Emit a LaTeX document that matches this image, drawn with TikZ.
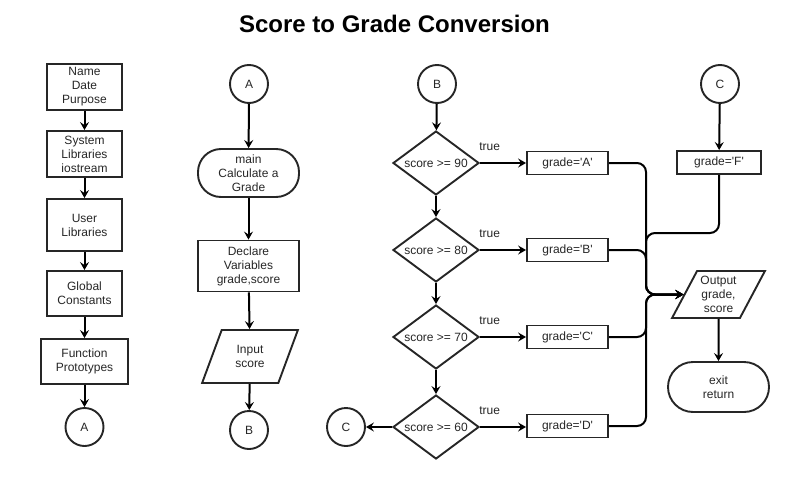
\documentclass[tikz,border=0pt]{standalone}
\usepackage{fontspec}
\setmainfont{Liberation Sans}
\usetikzlibrary{shapes.geometric,arrows.meta}

\newcommand{\q}{\textquotesingle}

\begin{document}
\begin{tikzpicture}[x=1pt,y=-1pt,
  every node/.style={font=\fontsize{12}{14}\selectfont, text=black!85, align=center, inner sep=0pt},
  box/.style={draw=black!85, line width=1.9pt, rectangle},
  conn/.style={draw=black!85, line width=1.9pt, circle, minimum size=38pt},
  term/.style={draw=black!85, line width=1.9pt, rectangle, rounded corners=23pt},
  io/.style={draw=black!85, line width=1.9pt, trapezium, trapezium stretches=true},
  dec/.style={draw=black!85, line width=1.9pt, diamond, aspect=1.34, minimum width=86pt, minimum height=64pt},
  flow/.style={draw=black, line width=2pt, -{Stealth[length=8pt,width=9pt,inset=3pt]}},
  merge/.style={flow, rounded corners=9pt},
  yes/.style={pos=0.21, anchor=south, yshift=11pt, font=\fontsize{12}{14}\selectfont}
]
\useasboundingbox (0,0) rectangle (795,479);

% title
\node[font=\fontsize{24}{28}\bfseries\selectfont, text=black] (title) at (394.5,24) {Score to Grade Conversion};

% program header column
\node[box, minimum width=75pt, minimum height=46pt] (hdr) at (84.5,87) {Name\\Date\\Purpose};
\node[box, minimum width=75pt, minimum height=46pt] (syslib) at (84.5,154) {System\\Libraries\\iostream};
\node[box, minimum width=75pt, minimum height=52pt] (usrlib) at (84.5,225) {User\\Libraries};
\node[box, minimum width=75pt, minimum height=45pt] (glob) at (84.5,293.5) {Global\\Constants};
\node[box, minimum width=87pt, minimum height=45pt] (proto) at (84.5,361.5) {Function\\Prototypes};
\node[conn] (ca1) at (84.5,427) {A};

\draw[flow] (hdr) -- (syslib);
\draw[flow] (syslib) -- (usrlib);
\draw[flow] (usrlib) -- (glob);
\draw[flow] (glob) -- (proto);
\draw[flow] (proto) -- (ca1);

% main column
\node[conn] (ca2) at (249,84) {A};
\node[term, minimum width=101pt, minimum height=48pt] (main) at (248.5,173) {main\\Calculate a\\Grade};
\node[box, minimum width=101pt, minimum height=51pt] (decl) at (248.5,266) {Declare\\Variables\\grade,score};
\node[io, trapezium left angle=65.6, trapezium right angle=114.4, minimum width=96pt, minimum height=53pt] (inp) at (250,356.5) {Input\\score};
\node[conn] (cb2) at (249,430) {B};

\draw[flow] (ca2) -- (main);
\draw[flow] (main) -- (decl);
\draw[flow] (decl) -- (inp);
\draw[flow] (inp) -- (cb2);

% decision chain
\node[conn] (cb3) at (437,84) {B};
\node[dec] (d90) at (436,163) {score >= 90};
\node[dec] (d80) at (436,250) {score >= 80};
\node[dec] (d70) at (436,337) {score >= 70};
\node[dec] (d60) at (436,427) {score >= 60};
\node[conn] (cc3) at (346,427) {C};

\node[box, minimum width=81pt, minimum height=23pt] (ga) at (567.5,163) {grade=\q A\q};
\node[box, minimum width=81pt, minimum height=23pt] (gb) at (567.5,250) {grade=\q B\q};
\node[box, minimum width=81pt, minimum height=23pt] (gc) at (567.5,337) {grade=\q C\q};
\node[box, minimum width=81pt, minimum height=23pt] (gd) at (567.5,426) {grade=\q D\q};

\draw[flow] (cb3) -- (d90);
\draw[flow] (d90) -- (d80);
\draw[flow] (d80) -- (d70);
\draw[flow] (d70) -- (d60);
\draw[flow] (d60) -- (cc3);

\draw[flow] (d90.east) -- node[yes] {true} (ga.west |- d90.east);
\draw[flow] (d80.east) -- node[yes] {true} (gb.west |- d80.east);
\draw[flow] (d70.east) -- node[yes] {true} (gc.west |- d70.east);
\draw[flow] (d60.east) -- node[yes] {true} (gd.west |- d60.east);

% output column
\node[conn] (cc4) at (720,84) {C};
\node[box, minimum width=84pt, minimum height=23pt] (gf) at (719,162.5) {grade=\q F\q};
\node[io, trapezium left angle=60.1, trapezium right angle=119.9, minimum width=93pt, minimum height=47pt] (out) at (718.5,294.5) {Output\\grade,\\score};
\node[term, minimum width=101pt, minimum height=50pt, rounded corners=25pt] (done) at (718.5,387) {exit\\return};

\coordinate (bus) at (646,294.5);

\draw[flow] (cc4) -- (gf);
\draw[merge] (ga.east) -- (bus |- ga.east) -- (bus) -- (out.west);
\draw[merge] (gb.east) -- (bus |- gb.east) -- (bus) -- (out.west);
\draw[merge] (gc.east) -- (bus |- gc.east) -- (bus) -- (out.west);
\draw[merge] (gd.east) -- (bus |- gd.east) -- (bus) -- (out.west);
\draw[merge] (gf.south) -- (gf.south |- 0,233) -- (bus |- 0,233) -- (bus) -- (out.west);
\draw[flow] (out) -- (done);
\end{tikzpicture}
\end{document}
